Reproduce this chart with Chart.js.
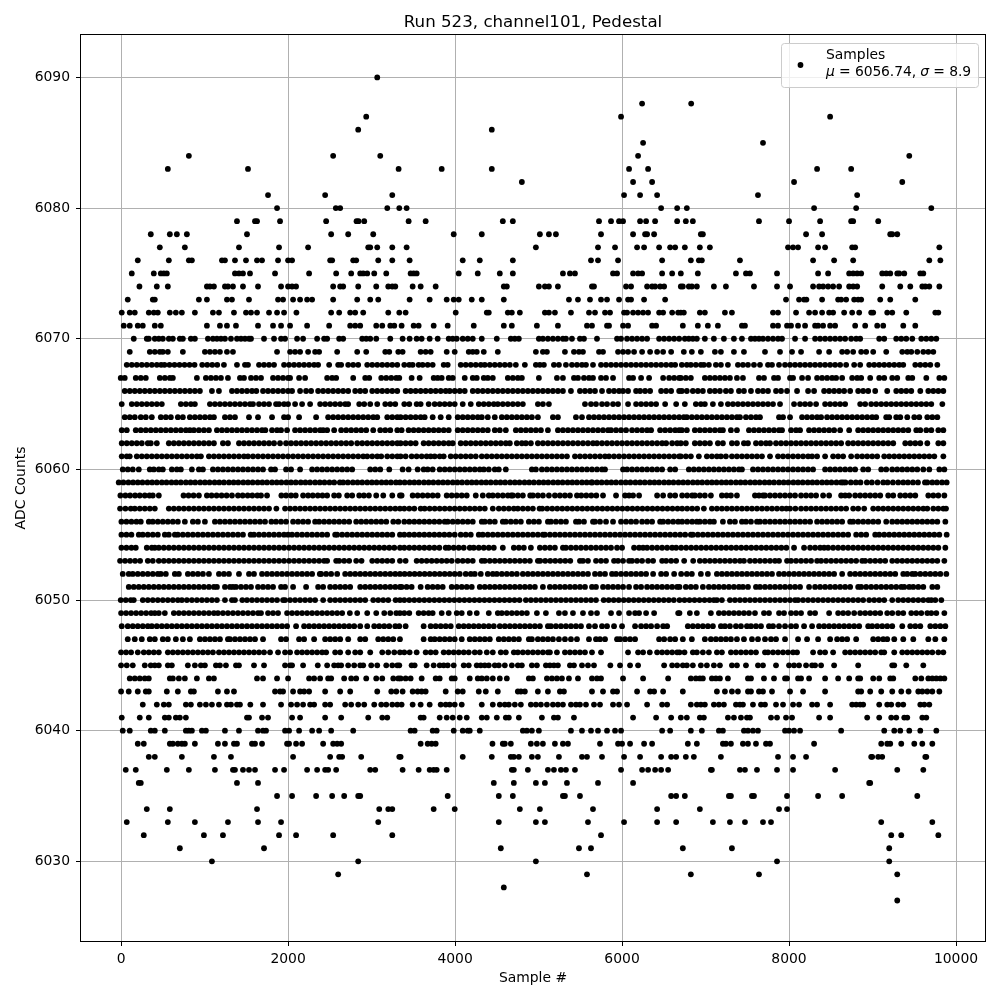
<!DOCTYPE html>
<html lang="en">
<head>
<meta charset="UTF-8">
<title>Run 523, channel101, Pedestal</title>
<script src="https://cdn.jsdelivr.net/npm/chart.js@4/dist/chart.umd.min.js"></script>
<style>
body { margin: 0; background: #fff; }
canvas { display: block; }
</style>
</head>
<body>
<canvas id="pedestal" width="1000" height="1000"></canvas>
<script>
// sample numbers, one list per ADC level
const adc6090 = [3068];
const adc6088 = [6240,6828];
const adc6087 = [2936,5988,8492];
const adc6086 = [2840,4440];
const adc6085 = [6252,7688];
const adc6084 = [812,2540,3104,6192,9440];
const adc6083 = [560,1520,3324,3840,4440,6084,6312,8336,8744];
const adc6082 = [4800,6132,6360,8060,9356];
const adc6081 = [1760,2444,3248,6024,6216,6420,7628,8816];
const adc6080 = [1868,2572,2624,3188,3332,3420,6468,6660,6776,8300,8804,9704];
const adc6079 = [1388,1604,1628,1904,2456,2820,2844,2912,3444,3648,4572,4692,5724,5868,5964,6012,6216,6288,6396,6660,6764,6848,7640,8000,8372,8744,8768,9068];
const adc6078 = [356,584,668,788,1508,2516,2720,3020,3984,4320,5016,5124,5208,5748,6132,6276,6300,6384,6944,6968,8204,8396,9212,9236,9296];
const adc6077 = [464,764,1412,1892,2240,2960,2984,3068,3248,3420,4968,5712,5916,6180,6264,6444,6576,6636,6752,6932,7052,7988,8048,8108,8348,8432,8756,8792,9800];
const adc6076 = [200,572,812,848,1208,1244,1364,1496,1628,1688,1880,2000,2048,2504,2528,2780,2816,3080,3248,3456,4092,4296,4692,5628,5712,5952,6480,6824,6920,6956,7412,8288,8540,8768,9680,9812];
const adc6075 = [128,392,476,512,548,1364,1412,1460,1544,1844,2252,2576,2756,2864,2900,2948,3032,3176,3468,3504,3540,4044,4272,4536,4692,5292,5376,5436,5892,5940,6132,6192,6240,6480,6600,6704,6908,7364,7484,7532,7856,8348,8468,8720,8768,8816,8864,9116,9164,9212,9296,9320,9380,9572,9608];
const adc6074 = [220,428,560,1028,1064,1112,1244,1280,1340,1460,1640,1916,2000,2048,2096,2540,2624,2660,2840,3056,3200,3248,3284,3492,3588,3768,4584,4620,5004,5076,5124,5232,5640,5664,6048,6108,6300,6360,6396,6456,6504,6704,6728,6800,6836,6896,7100,7244,7580,7856,8012,8288,8360,8408,8468,8528,8600,8720,8768,8816,9116,9332,9452,9596,9632,9680,9800];
const adc6073 = [80,380,404,932,1028,1268,1328,1532,1880,1940,2060,2144,2228,2288,2540,2828,2984,3080,3456,3696,3900,3984,4044,4200,4320,4584,5364,5472,5616,5748,5820,5964,6072,6108,6264,6516,7964,8120,8180,8208,8396,8588,8624,8684,8780,8828,8864,9092,9212,9512];
const adc6072 = [8,104,164,332,392,440,584,656,728,884,1100,1172,1352,1496,1556,1628,1772,1868,1952,2100,2516,2612,2744,2804,2900,3200,3332,3408,4008,4380,4404,4632,4680,4776,5076,5124,5196,5388,5604,5676,5796,5856,6024,6060,6132,6192,6252,6312,6444,6492,6600,6672,6704,6740,6932,6992,7232,7316,7808,7868,8084,8240,8312,8396,8480,8528,8660,8756,8840,8984,9008,9176,9236,9404,9752,9788];
const adc6071 = [32,104,200,260,404,476,1028,1184,1268,1376,1640,1820,1916,2024,2228,2492,2744,2804,2864,3056,3128,3224,3272,3360,3504,3564,3744,3912,4224,4584,4680,4980,5232,5580,5640,5820,5844,6012,6072,6360,6408,6728,6908,7028,7148,7436,7472,7808,7868,7976,8024,8108,8192,8312,8348,8408,8492,8552,8792,8912,9056,9128,9368,9512];
const adc6070 = [152,308,332,404,452,500,572,620,704,740,836,884,1040,1100,1148,1196,1244,1316,1388,1436,1484,1532,1556,1712,1832,1916,1964,2108,2180,2348,2432,2468,2612,2660,2888,2936,2984,3056,3224,3372,3456,3540,3600,3696,3792,3924,3972,4020,4092,4152,4212,4320,4500,4668,4716,4764,5004,5052,5112,5172,5232,5292,5328,5400,5496,5544,5700,5940,5988,6060,6120,6180,6240,6300,6444,6504,6564,6624,6684,6752,6800,6848,6896,6992,7100,7220,7340,7436,7544,7592,7640,7688,7748,7808,7868,7916,8072,8192,8312,8372,8432,8492,8552,8612,8672,8744,8804,8852,9080,9140,9284,9344,9404,9476,9584,9644,9704,9764];
const adc6069 = [104,344,404,464,500,560,740,1004,1064,1124,1184,1268,1340,1868,2024,2084,2144,2240,2324,2372,2588,2828,2936,3164,3212,3320,3372,3588,3648,3708,3900,3996,4164,4212,4260,4344,4512,4968,5052,5100,5316,5424,5484,5532,5724,5772,5952,6012,6072,6144,6240,6336,6420,6492,6588,6740,6836,6944,7112,7184,7340,7460,7712,7892,8036,8144,8360,8480,8636,8696,8768,8864,8924,9008,9164,9356,9416,9464,9536,9608,9668,9728];
const adc6068 = [68,128,188,248,308,368,428,480,520,580,640,700,760,820,880,972,1032,1092,1152,1232,1388,1484,1520,1652,1712,1772,1832,1952,2012,2072,2132,2192,2252,2312,2360,2492,2600,2636,2720,2780,2840,2948,3008,3068,3128,3188,3248,3308,3392,3452,3492,3564,3612,3672,3732,3864,3912,4068,4128,4188,4248,4308,4356,4416,4476,4536,4596,4656,4728,4836,4968,5016,5064,5184,5244,5328,5400,5460,5520,5568,5652,5748,5808,5868,5928,5988,6048,6108,6168,6228,6288,6348,6408,6468,6528,6588,6636,6716,6776,6824,6884,6944,6980,7040,7124,7184,7268,7388,7448,7508,7580,7652,7748,7796,7880,7952,8012,8072,8132,8192,8252,8312,8372,8432,8492,8552,8612,8684,8780,8852,8960,9020,9080,9140,9200,9260,9320,9368,9512,9572,9632,9692,9776];
const adc6067 = [-4,44,176,236,296,464,524,584,620,908,1016,1076,1136,1196,1280,1424,1472,1556,1616,1676,1820,1880,1940,2000,2024,2132,2204,2468,2528,2576,2780,2924,2972,3116,3176,3236,3296,3332,3480,3576,3744,3792,3840,3924,3972,4116,4212,4260,4344,4392,4452,4632,4692,4752,4800,5004,5220,5292,5424,5472,5544,5604,5652,5748,5808,5892,6084,6132,6228,6324,6492,6564,6624,6684,6704,6764,6824,6992,7052,7112,7172,7232,7292,7376,7448,7640,7700,7820,7868,8012,8048,8156,8228,8336,8396,8456,8516,8564,8636,8756,8816,8864,8972,9080,9140,9236,9296,9428,9476,9644,9800,9860];
const adc6066 = [44,104,164,224,284,344,404,464,524,584,644,704,764,824,884,944,1088,1172,1328,1388,1448,1508,1568,1620,1700,1760,1820,1880,1940,2000,2048,2144,2216,2276,2360,2420,2480,2540,2600,2660,2720,2804,2864,2924,3008,3068,3128,3188,3248,3308,3408,3468,3528,3588,3648,3708,3768,3828,3888,3936,3996,4056,4116,4212,4272,4332,4392,4452,4512,4572,4632,4692,4752,4812,4872,4932,4992,5052,5112,5172,5232,5292,5388,5496,5556,5616,5676,5760,5844,5904,5964,6012,6072,6168,6216,6276,6336,6468,6528,6588,6684,6716,6776,6848,6908,6968,7052,7112,7172,7244,7304,7400,7460,7544,7628,7688,7748,7844,7904,7976,8096,8228,8300,8420,8480,8540,8600,8660,8732,8828,8888,8948,9032,9176,9284,9344,9404,9464,9572,9668,9728,9788,9848];
const adc6065 = [8,128,188,248,308,368,428,488,716,776,836,884,1064,1124,1184,1244,1304,1364,1424,1484,1544,1580,1652,1712,1772,1856,1892,1952,2000,2084,2168,2264,2384,2444,2504,2564,2624,2684,2720,2852,2912,2984,3068,3164,3224,3284,3392,3452,3540,3588,3684,3756,3816,3876,3936,3996,4092,4188,4284,4344,4404,4464,4512,4572,4632,4692,4752,4812,4992,5052,5124,5556,5628,5688,5760,5820,5892,5952,6072,6168,6228,6288,6348,6408,6516,6648,6752,6884,6944,6992,7088,7184,7268,7328,7388,7448,7508,7568,7628,7688,7748,7808,7892,8060,8132,8192,8252,8324,8432,8492,8552,8612,8672,8852,8912,8984,9044,9104,9164,9224,9284,9344,9404,9464,9524,9584,9644,9704,9836];
const adc6064 = [44,104,164,236,296,368,476,536,596,680,740,824,884,944,1004,1064,1112,1244,1304,1364,1532,1640,1808,1952,2000,2132,2336,2480,2540,2600,2660,2720,2780,2840,2900,2960,3020,3068,3188,3248,3308,3348,3408,3468,3528,3588,3636,3732,3828,3924,4032,4092,4152,4212,4272,4320,4392,4476,4560,4620,4680,4740,4800,4860,4920,4992,5172,5232,5448,5520,5604,5664,5724,5784,5844,5904,5964,6024,6084,6144,6204,6264,6324,6384,6444,6504,6564,6624,6684,6740,6776,6836,6896,6956,7016,7076,7136,7196,7256,7316,7376,7412,7484,7544,7604,7652,7880,7928,8012,8156,8216,8276,8336,8384,8456,8516,8576,8636,8696,8756,8816,8876,8936,8996,9044,9164,9200,9284,9332,9416,9500,9560,9656,9716,9776];
const adc6063 = [8,68,176,236,296,356,416,476,536,596,656,716,776,824,872,932,992,1052,1148,1208,1268,1328,1388,1448,1508,1568,1628,1688,1728,1808,1868,1916,1988,2084,2144,2204,2264,2324,2384,2420,2468,2552,2636,2696,2756,2816,2876,2936,3020,3104,3164,3224,3308,3360,3444,3504,3564,3624,3684,3744,3804,3864,3924,4032,4092,4152,4212,4272,4332,4392,4476,4536,4608,4728,4788,4848,4908,4968,5028,5112,5232,5292,5352,5412,5472,5532,5592,5652,5712,5772,5832,5868,5928,5988,6048,6120,6180,6240,6300,6348,6456,6516,6576,6636,6684,6716,6776,6872,6932,6992,7052,7112,7172,7208,7304,7376,7520,7580,7640,7700,7760,7820,7880,7916,8024,8084,8132,8240,8300,8360,8420,8480,8540,8612,8720,8828,8888,8948,9008,9068,9128,9188,9248,9308,9368,9428,9524,9572,9644,9704,9788,9848];
const adc6062 = [8,68,128,188,248,320,356,428,572,632,692,752,812,872,932,992,1052,1112,1220,1280,1412,1472,1532,1592,1652,1712,1772,1832,1904,1976,2036,2096,2156,2216,2276,2336,2396,2456,2516,2576,2636,2696,2756,2828,2888,2948,3008,3068,3128,3188,3248,3308,3348,3408,3468,3528,3624,3684,3744,3804,3864,3924,3972,4068,4128,4188,4248,4308,4368,4428,4488,4548,4608,4656,4740,4800,4848,4908,4992,5052,5112,5172,5232,5292,5352,5412,5472,5532,5592,5652,5700,5760,5820,5880,5940,6000,6060,6120,6180,6240,6300,6360,6420,6480,6528,6600,6660,6704,6764,6872,6932,6992,7052,7148,7208,7316,7376,7460,7508,7604,7664,7724,7772,7844,7904,7964,8024,8084,8144,8204,8264,8324,8384,8444,8504,8564,8624,8708,8768,8828,8888,8948,9008,9068,9128,9188,9248,9392,9452,9512,9572,9656,9788,9848];
const adc6061 = [8,68,104,188,248,308,368,428,488,548,608,668,728,788,848,908,956,1052,1112,1172,1232,1292,1352,1412,1472,1520,1580,1640,1700,1760,1820,1880,1940,2000,2060,2120,2180,2240,2300,2360,2420,2480,2540,2600,2660,2720,2780,2840,2900,2948,3008,3068,3116,3188,3248,3308,3348,3408,3480,3540,3600,3660,3708,3756,3816,3864,3948,4008,4068,4128,4188,4248,4320,4380,4440,4500,4560,4620,4680,4740,4800,4860,4920,4980,5040,5100,5160,5220,5280,5340,5436,5496,5556,5616,5676,5736,5796,5844,5904,5964,6024,6084,6144,6204,6264,6324,6384,6444,6504,6564,6624,6684,6704,6764,6824,6920,7016,7076,7136,7184,7244,7316,7376,7436,7496,7556,7616,7676,7772,7868,7928,7988,8048,8108,8168,8228,8276,8336,8432,8528,8588,8648,8744,8816,8876,8936,8996,9056,9140,9200,9260,9320,9380,9440,9500,9560,9620,9680,9740,9848];
const adc6060 = [20,80,140,212,344,392,452,500,608,668,716,848,932,980,1100,1160,1220,1280,1340,1400,1460,1520,1580,1640,1700,1796,1844,1976,2036,2144,2288,2348,2408,2468,2528,2588,2648,2708,2768,2984,3044,3104,3212,3372,3444,3552,3624,3672,3732,3816,3876,3936,3996,4056,4116,4176,4236,4296,4344,4404,4476,4524,4608,4920,4968,5040,5100,5160,5220,5280,5340,5400,5460,5520,5580,5640,5700,5760,5796,6012,6060,6120,6180,6240,6300,6360,6420,6480,6576,6636,6800,6860,6920,6980,7040,7100,7160,7220,7280,7340,7400,7436,7568,7628,7688,7748,7808,7868,7928,7988,8048,8108,8168,8228,8288,8432,8492,8552,8612,8672,8732,8792,8888,8948,9104,9164,9236,9296,9356,9416,9476,9536,9608,9680,9800,9860];
const adc6059 = [-28,28,88,144,200,256,316,372,428,488,544,604,660,716,776,832,888,948,1004,1060,1120,1176,1232,1292,1348,1404,1464,1520,1576,1636,1692,1748,1808,1864,1920,1980,2036,2092,2152,2208,2264,2324,2380,2436,2496,2552,2620,2660,2716,2776,2832,2888,2948,3004,3060,3120,3176,3232,3292,3340,3396,3456,3512,3568,3628,3684,3740,3800,3856,3912,3972,4028,4084,4144,4200,4256,4316,4372,4428,4488,4544,4600,4660,4716,4772,4832,4888,4944,5004,5060,5116,5176,5232,5288,5348,5404,5460,5520,5576,5632,5644,5700,5756,5816,5872,5928,5988,6044,6100,6160,6216,6272,6332,6388,6444,6504,6560,6616,6676,6732,6788,6848,6904,6960,7020,7076,7132,7192,7248,7304,7364,7420,7476,7536,7592,7648,7708,7764,7820,7880,7936,7992,8052,8108,8164,8224,8280,8336,8396,8452,8508,8568,8624,8648,8676,8740,8800,8856,8932,8992,9060,9128,9180,9244,9308,9368,9424,9484,9544,9628,9656,9716,9772,9832,9888];
const adc6058 = [-8,52,108,168,224,284,340,380,452,748,808,868,932,1028,1084,1144,1204,1264,1328,1400,1456,1516,1572,1632,1676,1748,1920,1976,2036,2092,2180,2240,2296,2356,2412,2468,2552,2608,2708,2768,2852,2908,2968,3056,3140,3248,3340,3360,3492,3552,3612,3672,3732,3792,3900,3960,4020,4080,4140,4248,4332,4404,4452,4512,4572,4632,4672,4692,4752,4812,4900,4932,4992,5052,5124,5196,5256,5316,5376,5460,5512,5572,5632,5692,5772,5928,6036,6084,6132,6204,6420,6492,6576,6636,6720,6780,6840,6872,6932,6992,7064,7196,7252,7304,7376,7592,7640,7688,7712,7772,7832,7892,7952,8012,8072,8144,8204,8264,8324,8408,8480,8624,8672,8720,8792,8852,8912,8972,9032,9092,9188,9248,9332,9392,9452,9512,9668,9728,9788,9860];
const adc6057 = [-12,52,116,164,224,284,344,404,572,632,692,752,812,872,932,992,1052,1112,1172,1232,1292,1352,1412,1472,1532,1592,1652,1712,1772,1860,1964,2024,2084,2144,2204,2264,2324,2384,2444,2504,2564,2624,2684,2744,2804,2864,2924,2984,3044,3104,3164,3224,3284,3340,3392,3452,3512,3588,3636,3696,3756,3816,3876,3936,3996,4056,4116,4176,4236,4296,4356,4452,4524,4584,4644,4704,4752,4812,4872,4932,5012,5044,5104,5164,5224,5284,5344,5404,5464,5524,5584,5644,5704,5764,5824,5884,5944,6004,6064,6124,6184,6244,6304,6364,6424,6484,6544,6604,6664,6720,6780,6840,6900,6980,7076,7136,7196,7256,7316,7376,7436,7496,7556,7616,7676,7736,7796,7856,7916,7968,8012,8076,8144,8204,8264,8324,8384,8444,8504,8564,8624,8684,8768,8828,8900,9008,9068,9128,9188,9248,9308,9368,9428,9488,9548,9608,9656,9728,9788,9848,9880];
const adc6056 = [4,64,124,184,236,332,380,440,500,560,620,680,764,860,920,1004,1124,1184,1244,1304,1364,1424,1484,1544,1604,1664,1724,1800,1856,1916,1976,2060,2120,2180,2240,2324,2372,2432,2492,2552,2612,2672,2732,2816,2876,2936,2996,3056,3116,3176,3260,3320,3392,3452,3512,3572,3632,3692,3752,3812,3876,3912,3972,4032,4092,4152,4212,4320,4356,4416,4476,4572,4608,4668,4728,4788,4884,4944,5004,5112,5148,5208,5268,5328,5448,5484,5544,5652,5676,5736,5808,5892,5988,6048,6108,6168,6240,6300,6360,6456,6492,6552,6612,6672,6720,6780,6840,6896,6932,6992,7052,7100,7208,7292,7352,7436,7484,7544,7616,7652,7712,7772,7832,7892,7952,8012,8072,8132,8192,8252,8336,8396,8456,8516,8576,8636,8732,8768,8828,8888,8948,9008,9068,9164,9236,9296,9356,9416,9476,9536,9596,9656,9716,9776,9872];
const adc6055 = [4,64,124,212,260,320,380,440,524,572,644,680,740,800,860,920,980,1040,1100,1160,1220,1280,1340,1400,1460,1552,1592,1652,1712,1772,1832,1892,1952,2000,2048,2108,2168,2228,2288,2348,2408,2468,2564,2588,2648,2708,2768,2828,2888,2948,3008,3068,3128,3188,3248,3340,3392,3452,3512,3572,3632,3692,3752,3812,3872,3932,3996,4068,4128,4188,4284,4332,4392,4452,4512,4572,4632,4692,4752,4812,4872,4932,4992,5052,5076,5136,5196,5256,5316,5376,5436,5496,5556,5616,5676,5736,5796,5856,5916,5976,6036,6096,6156,6216,6276,6336,6396,6456,6516,6576,6636,6696,6756,6824,6848,6908,6968,7028,7088,7148,7208,7268,7328,7388,7448,7508,7568,7628,7688,7748,7808,7868,7928,7988,8048,8108,8168,8228,8288,8348,8408,8468,8528,8588,8648,8708,8804,8864,8924,9032,9080,9140,9200,9260,9320,9380,9440,9500,9560,9620,9680,9740,9800,9888];
const adc6054 = [4,64,124,176,308,368,404,452,512,572,632,692,752,812,872,932,992,1052,1112,1172,1232,1292,1352,1412,1472,1532,1592,1652,1712,1772,1832,1892,1952,2012,2072,2132,2192,2252,2312,2372,2432,2492,2552,2612,2672,2732,2792,2852,2912,2972,3032,3092,3152,3212,3272,3340,3392,3452,3512,3572,3632,3692,3752,3812,3888,3924,3984,4044,4104,4176,4224,4284,4344,4404,4464,4572,4704,4764,4824,4908,5016,5076,5136,5196,5292,5328,5388,5448,5508,5568,5628,5688,5748,5808,5868,5940,6000,6144,6204,6252,6300,6360,6420,6480,6540,6600,6648,6708,6768,6828,6888,6948,7008,7068,7128,7188,7248,7308,7368,7428,7488,7548,7608,7668,7728,7788,7848,7908,7968,8060,8180,8252,8312,8372,8420,8468,8528,8588,8648,8708,8768,8828,8888,8948,9008,9068,9128,9188,9248,9308,9368,9428,9488,9548,9608,9668,9728,9788,9872];
const adc6053 = [-12,48,108,168,228,320,380,452,512,572,632,692,752,812,872,932,992,1052,1112,1172,1232,1292,1352,1412,1472,1532,1592,1652,1712,1772,1832,1892,1952,2012,2072,2132,2192,2252,2312,2372,2432,2468,2576,2612,2672,2732,2816,2880,3008,3068,3128,3188,3248,3340,3408,3540,3600,3660,3720,3780,3840,3900,3960,4032,4092,4152,4212,4320,4356,4416,4476,4536,4596,4656,4716,4776,4836,4896,4992,5020,5080,5140,5200,5260,5320,5380,5496,5532,5592,5688,5748,5808,5904,5952,6012,6084,6120,6180,6240,6312,6372,6480,6528,6588,6648,6744,6852,6932,6992,7052,7112,7172,7232,7292,7352,7412,7460,7532,7592,7652,7712,7772,7832,7880,7976,8024,8084,8144,8204,8264,8336,8384,8444,8504,8564,8624,8684,8744,8804,8876,8912,8972,9032,9092,9152,9236,9296,9356,9416,9476,9536,9596,9656,9716,9776,9860];
const adc6052 = [20,92,140,200,260,320,380,440,476,536,644,692,800,860,920,980,1052,1172,1232,1292,1412,1532,1592,1688,1748,1808,1868,1928,1988,2048,2108,2168,2228,2288,2380,2396,2456,2516,2588,2684,2744,2804,2864,2924,2984,3044,3104,3164,3224,3284,3340,3396,3456,3516,3576,3636,3696,3756,3816,3876,3936,3996,4056,4128,4188,4236,4308,4392,4452,4500,4560,4620,4680,4740,4812,4872,4932,4992,5052,5112,5172,5232,5292,5352,5412,5472,5532,5592,5676,5736,5796,5880,5928,5988,6048,6108,6168,6228,6288,6372,6468,6528,6624,6708,6776,6836,6944,7028,7136,7196,7256,7316,7376,7436,7496,7556,7616,7676,7736,7796,7880,7940,8000,8060,8120,8180,8240,8300,8360,8420,8480,8540,8636,8732,8792,8852,8912,8972,9032,9092,9152,9212,9272,9368,9416,9476,9512,9572,9632,9692,9752,9812,9884];
const adc6051 = [92,152,212,272,332,392,452,512,572,632,692,752,812,872,932,992,1052,1112,1148,1244,1304,1340,1376,1436,1496,1556,1640,1700,1760,1820,1916,1964,2060,2216,2360,2420,2504,2564,2624,2684,2744,2864,2924,2984,3044,3104,3164,3224,3284,3340,3360,3420,3480,3588,3672,3732,3792,3852,3960,4020,4080,4140,4200,4296,4356,4416,4476,4536,4596,4656,4716,4776,4836,4896,4956,5052,5136,5196,5256,5316,5376,5436,5496,5556,5640,5688,5772,5832,5892,5952,6012,6084,6168,6228,6300,6360,6420,6480,6540,6600,6660,6688,6764,6824,6884,6968,7040,7100,7160,7220,7280,7340,7400,7448,7508,7604,7652,7712,7772,7832,7892,7952,8012,8072,8132,8240,8312,8372,8432,8492,8552,8612,8672,8732,8828,8864,8924,8984,9044,9104,9164,9224,9284,9344,9380,9440,9488,9548,9608,9716,9776];
const adc6050 = [-4,56,116,152,260,320,380,440,500,560,620,680,728,788,848,908,968,1028,1088,1148,1244,1328,1364,1452,1508,1568,1628,1688,1748,1808,1868,1940,1964,2024,2084,2144,2204,2264,2324,2420,2504,2564,2624,2684,2744,2804,2864,2924,3020,3080,3140,3200,3288,3340,3392,3452,3512,3572,3632,3692,3752,3812,3872,3932,3992,4052,4112,4172,4232,4292,4352,4412,4472,4532,4592,4652,4712,4772,4848,4908,4968,5028,5088,5148,5208,5268,5328,5388,5448,5508,5568,5628,5688,5780,5840,5900,5960,6020,6080,6140,6200,6260,6320,6380,6440,6500,6560,6620,6688,6748,6808,6868,6928,6988,7048,7100,7136,7196,7292,7352,7412,7472,7532,7592,7652,7712,7772,7832,7892,7952,8012,8072,8108,8168,8228,8288,8348,8408,8468,8528,8588,8648,8708,8768,8828,8888,8960,9020,9080,9140,9236,9308,9368,9428,9488,9548,9608,9668,9704,9752,9824];
const adc6049 = [0,60,120,180,240,300,360,404,452,524,632,692,752,812,872,932,992,1052,1112,1160,1220,1280,1340,1400,1460,1520,1580,1640,1676,1760,1820,1880,1988,2048,2108,2168,2228,2288,2348,2408,2468,2528,2588,2648,2740,2828,2948,3056,3152,3224,3296,3340,3392,3452,3564,3624,3684,3732,3840,3924,4020,4080,4176,4260,4404,4512,4560,4620,4680,4740,4800,4860,4980,5088,5244,5316,5412,5532,5628,5700,5868,5964,6084,6156,6204,6288,6384,6672,6688,6812,6896,7064,7160,7220,7280,7340,7400,7460,7520,7592,7700,7760,7880,7940,8024,8084,8144,8252,8312,8480,8588,8648,8708,8780,8852,8912,8972,9032,9092,9176,9236,9308,9368,9464,9524,9584,9656,9704,9764,9860];
const adc6048 = [8,80,140,200,260,320,368,428,488,548,608,668,728,788,848,908,968,1028,1088,1148,1208,1268,1328,1388,1448,1508,1568,1628,1688,1748,1808,1868,1928,1988,2096,2192,2252,2312,2372,2432,2492,2552,2612,2672,2732,2792,2864,2948,3032,3092,3152,3212,3284,3332,3408,3624,3708,3768,3828,3888,3948,4044,4104,4164,4224,4284,4344,4404,4464,4536,4596,4656,4716,4776,4836,4896,4956,5016,5112,5148,5208,5268,5328,5388,5448,5508,5604,5676,5760,5820,5904,6000,6156,6228,6288,6348,6420,6492,6540,6788,6848,6908,6968,7028,7088,7184,7232,7292,7364,7424,7496,7544,7604,7664,7760,7808,7880,7952,8024,8084,8180,8276,8360,8420,8480,8540,8600,8660,8720,8780,8840,8948,8996,9056,9116,9176,9236,9356,9452,9512,9572,9692,9752,9812,9872];
const adc6047 = [80,164,248,344,404,500,560,656,740,824,944,1004,1064,1124,1184,1280,1304,1364,1424,1484,1544,1604,1700,1916,1976,2132,2192,2312,2444,2504,2564,2624,2720,2864,2924,3080,3140,3200,3260,3340,3624,3708,3756,3816,3876,3936,3996,4080,4176,4236,4296,4356,4416,4524,4584,4644,4704,4764,4884,4920,4992,5052,5112,5172,5244,5316,5388,5460,5604,5688,5736,5796,5940,5976,6036,6096,6156,6444,6504,6576,6636,6728,6836,6992,7064,7124,7184,7244,7304,7376,7460,7556,7628,7712,7784,7844,7952,8108,8216,8348,8492,8576,8636,8696,8804,9008,9068,9128,9176,9260,9368,9488,9668,9752,9860];
const adc6046 = [0,60,120,200,272,332,392,452,560,620,680,740,800,860,920,980,1040,1100,1172,1232,1292,1352,1412,1472,1532,1592,1652,1712,1784,1880,1964,2024,2108,2168,2228,2288,2348,2408,2456,2564,2624,2720,2804,2864,2984,3128,3200,3272,3340,3392,3456,3540,3648,3708,3768,3864,3924,3984,4044,4104,4164,4236,4296,4380,4452,4548,4608,4704,4752,4812,4872,4932,4992,5052,5112,5136,5220,5316,5376,5436,5496,5556,5640,5748,6072,6192,6252,6332,6420,6480,6540,6600,6660,6688,6748,6848,6896,6968,7040,7136,7196,7304,7364,7424,7484,7544,7604,7712,7748,7808,7868,7928,7988,8048,8096,8288,8372,8432,8528,8672,8732,8792,8852,8912,8972,9032,9104,9140,9260,9356,9416,9476,9536,9596,9656,9716,9788,9848];
const adc6045 = [0,68,140,284,356,404,452,560,608,800,884,956,1004,1136,1184,1256,1376,1412,1592,1712,1964,2024,2048,2180,2356,2468,2552,2600,2636,2720,2792,2864,2900,2996,3068,3176,3248,3308,3332,3480,3516,3660,3744,3816,3864,3912,3984,4104,4164,4260,4308,4356,4404,4476,4524,4596,4680,4752,4800,4920,4980,5088,5136,5184,5232,5376,5424,5520,5592,5664,5860,5976,6096,6192,6504,6600,6660,6728,6776,6848,6944,7016,7100,7172,7316,7376,7484,7628,7688,7844,8000,8060,8120,8204,8276,8312,8384,8540,8828,9236,9260,9404,9608];
const adc6044 = [104,164,224,284,332,584,620,692,764,908,1052,1112,1628,1700,1868,2000,2252,2312,2384,2480,2516,2672,2756,2816,2936,3056,3128,3260,3320,3348,3408,3468,3600,3768,3816,3960,3996,4176,4272,4320,4380,4452,4536,4620,4884,4932,5100,5160,5220,5280,5364,5472,5640,5700,5748,6012,6252,6552,6824,6884,6932,6968,7076,7124,7172,7268,7508,7544,7700,7820,7952,7976,8108,8144,8240,8432,8588,8720,8828,8852,9008,9080,9212,9248,9512,9584,9668,9716,9764,9812,9860];
const adc6043 = [0,92,200,296,332,548,680,836,872,1160,1268,1352,1844,1904,1940,2060,2144,2192,2252,2444,2624,2744,3068,3236,3296,3372,3492,3552,3600,3648,3888,4032,4092,4284,4368,4512,4752,4788,4836,4992,5112,5256,5304,5640,5772,5892,5940,6180,6336,6384,6492,6728,7136,7232,7316,7388,7508,7544,7640,7688,7796,8012,8168,8432,8828,8864,8972,9104,9236,9344,9432,9548,9596,9656,9716,9800];
const adc6042 = [260,428,512,572,776,836,944,1016,1088,1172,1268,1316,1388,1424,1548,1700,1916,2036,2108,2180,2264,2312,2444,2504,2684,2756,2840,2912,3032,3116,3176,3248,3308,3360,3492,3588,3696,3828,3888,3936,3996,4080,4320,4452,4536,4596,4644,4716,4788,4908,4968,5028,5100,5172,5232,5292,5388,5448,5496,5568,5664,5736,5892,5964,6060,6300,6480,6540,6824,6896,6944,6992,7100,7160,7220,7364,7412,7448,7568,7664,7712,7844,7928,8048,8120,8276,8336,8492,8756,8804,8852,8888,9080,9176,9224,9308,9368,9572,9620,9680];
const adc6041 = [8,224,332,524,572,656,704,776,1508,1532,1688,1760,2048,2144,2444,2636,2960,3128,3188,3588,3624,3816,3900,3972,4056,4140,4320,4380,4500,4608,4644,4764,5040,5184,5232,5424,6132,6408,6588,6704,6776,6932,6980,7268,7340,7424,7496,7532,7784,7856,7964,8036,8360,8492,8936,9080,9224,9284,9380,9416,9596,9644];
const adc6040 = [20,104,356,404,524,776,812,848,968,1016,1244,1412,1640,1700,1736,1964,2012,2132,2288,2372,2516,2780,3468,3516,3732,3780,3984,4092,4152,4176,4296,4812,4860,4920,5004,5388,5520,5628,5712,5820,5916,5988,6480,6576,6824,6956,7160,7208,7460,7508,7568,7628,7952,8000,8060,8132,8624,9140,9260,9332,9440,9572,9764];
const adc6039 = [200,272,584,620,680,728,764,884,1160,1244,1352,1388,1568,1604,1688,1988,2012,2096,2168,2420,2540,2588,2636,3588,3672,3720,3768,4448,4572,4596,4668,4908,4980,5052,5196,5292,5352,5736,5952,6000,6096,6264,6360,6788,6896,7208,7244,7304,7448,7508,7604,7724,7772,8300,9104,9176,9212,9344,9500,9596,9716];
const adc6038 = [332,404,728,1112,1316,2060,2504,2612,2648,2876,3332,3348,4092,4440,4668,4704,4764,4920,4992,5244,5520,5580,5760,6024,6216,6468,6588,6648,6764,6860,7184,7868,8048,8204,8984,8996,9068,9116,9632,9644];
const adc6037 = [56,176,548,812,1124,1340,1364,1460,1532,1604,1844,1952,2228,2348,2444,2480,2576,2984,3044,3372,3564,3696,3744,3780,3900,4680,4704,4872,5112,5184,5268,5328,5436,5988,6240,6312,6396,6468,6552,7064,7076,7412,7472,7616,7856,8048,8552,9296,9608];
const adc6036 = [212,236,1388,1640,4464,4704,4968,5076,5340,5712,6132,8960,8972];
const adc6035 = [1868,2048,2336,2528,2672,2840,2864,3912,4524,4692,5292,5316,5496,6588,6648,6752,7280,7304,7556,7580,7976,8348,8636,9536];
const adc6034 = [308,584,1628,3092,3200,3248,3744,3996,4776,5016,5652,6420,6932,7880,7976];
const adc6033 = [68,560,884,1280,1640,1916,3080,4524,4968,5076,5592,6024,6420,6648,7088,7292,7472,7688,7784,9104,9716];
const adc6032 = [272,992,1220,1892,2096,2540,3248,5748,9224,9344,9788];
const adc6031 = [704,1712,4548,5484,5628,6728,7316,9200];
const adc6030 = [1088,2840,4968,7856,9200];
const adc6029 = [2600,5580,6824,7640,9296];
const adc6028 = [4584];
const adc6027 = [9296];

const adcLevels = [6090,6088,6087,6086,6085,6084,6083,6082,6081,6080,6079,6078,6077,6076,6075,6074,6073,6072,6071,6070,6069,6068,6067,6066,6065,6064,6063,6062,6061,6060,6059,6058,6057,6056,6055,6054,6053,6052,6051,6050,6049,6048,6047,6046,6045,6044,6043,6042,6041,6040,6039,6038,6037,6036,6035,6034,6033,6032,6031,6030,6029,6028,6027];
const sampleRows = [adc6090,adc6088,adc6087,adc6086,adc6085,adc6084,adc6083,adc6082,adc6081,adc6080,adc6079,adc6078,adc6077,adc6076,adc6075,adc6074,adc6073,adc6072,adc6071,adc6070,adc6069,adc6068,adc6067,adc6066,adc6065,adc6064,adc6063,adc6062,adc6061,adc6060,adc6059,adc6058,adc6057,adc6056,adc6055,adc6054,adc6053,adc6052,adc6051,adc6050,adc6049,adc6048,adc6047,adc6046,adc6045,adc6044,adc6043,adc6042,adc6041,adc6040,adc6039,adc6038,adc6037,adc6036,adc6035,adc6034,adc6033,adc6032,adc6031,adc6030,adc6029,adc6028,adc6027];

const xTicks = [0,2000,4000,6000,8000,10000];
const yTicks = [6030,6040,6050,6060,6070,6080,6090];
const titleText = 'Run 523, channel101, Pedestal';
const seriesName = 'Samples';

const points = [];
sampleRows.forEach((row, i) => row.forEach(s => points.push({x: s, y: adcLevels[i]})));

const FONT = '"DejaVu Sans", sans-serif';

// axes frame, and the legend box (matplotlib style, mixed italic text)
const framePlugin = {
    id: 'frame',
    afterDraw(chart) {
        const ctx = chart.ctx, a = chart.chartArea;
        ctx.save();
        ctx.strokeStyle = '#000';
        ctx.lineWidth = 1;
        ctx.strokeRect(a.left - 0.5, a.top - 0.5, a.right - a.left + 1, a.bottom - a.top + 1);

        ctx.beginPath();
        ctx.roundRect(781.5, 43.5, 197, 44, 3);
        ctx.fillStyle = 'rgba(255,255,255,0.8)';
        ctx.fill();
        ctx.strokeStyle = '#ccc';
        ctx.stroke();

        ctx.fillStyle = '#000';
        ctx.beginPath();
        ctx.arc(800.5, 65, 2.9, 0, Math.PI * 2);
        ctx.fill();

        const normal = '13.9px ' + FONT, italic = 'italic 13.9px ' + FONT;
        ctx.textBaseline = 'alphabetic';
        ctx.font = normal;
        ctx.fillText(seriesName, 826, 59);
        ctx.letterSpacing = '-0.1px';
        let x = 826;
        [['\u03bc', italic], [' = 6056.74, ', normal], ['\u03c3', italic], [' = 8.9', normal]].forEach(p => {
            ctx.font = p[1];
            ctx.fillText(p[0], x, 76);
            x += ctx.measureText(p[0]).width;
        });
        ctx.restore();
    }
};

new Chart(document.getElementById('pedestal'), {
    type: 'scatter',
    data: {
        datasets: [{
            label: seriesName,
            data: points,
            backgroundColor: '#000',
            borderWidth: 0,
            pointRadius: 2.9,
            pointHoverRadius: 2.9
        }]
    },
    options: {
        responsive: false,
        animation: false,
        layout: { padding: { right: 15, top: 0, left: 0, bottom: 0 } },
        plugins: {
            legend: { display: false },
            tooltip: { enabled: false },
            title: {
                display: true,
                text: titleText,
                fullSize: false,
                color: '#000',
                font: { family: FONT, size: 16.67, weight: 'normal', lineHeight: 1.2 },
                padding: { top: 13, bottom: 2 }
            }
        },
        scales: {
            x: {
                type: 'linear',
                min: -480,
                max: 10347,
                afterBuildTicks: axis => { axis.ticks = xTicks.map(v => ({value: v})); },
                afterFit: axis => { axis.height = 59; },
                grid: { color: '#b0b0b0', lineWidth: 1, tickColor: '#000', tickLength: 5 },
                border: { display: false },
                ticks: { color: '#000', font: { family: FONT, size: 13.9 }, padding: 5, maxRotation: 0, callback: v => String(v) },
                title: { display: true, text: 'Sample #', color: '#000', font: { family: FONT, size: 13.9 }, padding: { top: 4, bottom: 13 } }
            },
            y: {
                type: 'linear',
                min: 6023.9,
                max: 6093.25,
                afterBuildTicks: axis => { axis.ticks = yTicks.map(v => ({value: v})); },
                afterFit: axis => { axis.width = 81; },
                grid: { color: '#b0b0b0', lineWidth: 1, tickColor: '#000', tickLength: 5 },
                border: { display: false },
                ticks: { color: '#000', font: { family: FONT, size: 13.9 }, padding: 6, callback: v => String(v) },
                title: { display: true, text: 'ADC Counts', color: '#000', font: { family: FONT, size: 13.9 }, padding: { top: 13, bottom: 0 } }
            }
        }
    },
    plugins: [framePlugin]
});
</script>
</body>
</html>
